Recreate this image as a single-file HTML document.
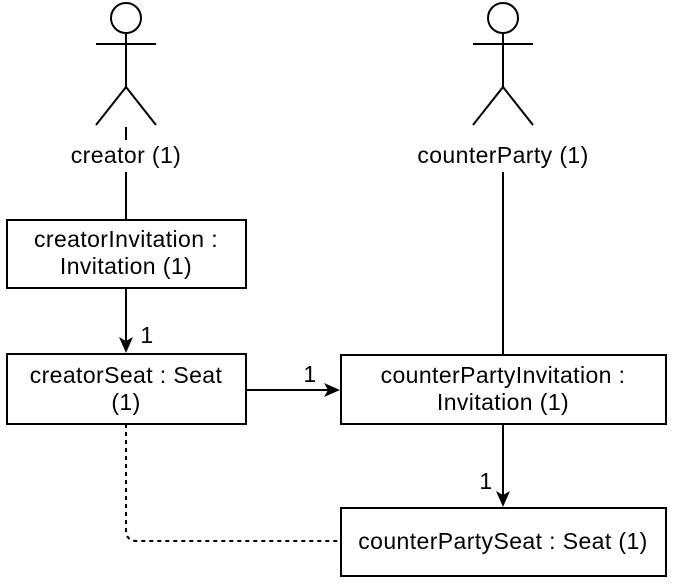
<!DOCTYPE html>
<html><head><style>body{margin:0;background:#fff}</style></head><body>
<svg width="673" height="581" xmlns="http://www.w3.org/2000/svg" font-family="Liberation Sans, Arial, sans-serif" font-size="23" letter-spacing="0.4">
<g stroke="#000" stroke-width="2" fill="none">
<circle cx="126" cy="18" r="15"/><line x1="126" y1="33" x2="126" y2="87"/><line x1="96" y1="44" x2="156" y2="44"/><line x1="126" y1="87" x2="96" y2="125"/><line x1="126" y1="87" x2="156" y2="125"/>
<circle cx="503" cy="18" r="15"/><line x1="503" y1="33" x2="503" y2="87"/><line x1="473" y1="44" x2="533" y2="44"/><line x1="503" y1="87" x2="473" y2="125"/><line x1="503" y1="87" x2="533" y2="125"/>
<line x1="126" y1="127" x2="126" y2="140"/><line x1="126" y1="172" x2="126" y2="220"/>
<line x1="503" y1="172" x2="503" y2="355"/>
<rect x="7" y="220" width="239" height="68" fill="#fff"/>
<rect x="7" y="354" width="239" height="70" fill="#fff"/>
<rect x="341" y="355" width="325" height="69" fill="#fff"/>
<rect x="341" y="508" width="325" height="68" fill="#fff"/>
<line x1="126" y1="288" x2="126" y2="342"/>
<line x1="246" y1="390" x2="330" y2="390"/>
<line x1="503" y1="424" x2="503" y2="496"/>
<path d="M126,424 L126,530 Q126,541 137,541 L341,541" stroke-dasharray="4,4"/>
</g>
<g fill="#000">
<path d="M119,337 L126,353 L133,337 L126,341 z"/>
<path d="M324,383 L340,390 L324,397 L328,390 z"/>
<path d="M496,491 L503,507 L510,491 L503,495 z"/>
</g>
<g text-anchor="middle" fill="#000">
<text x="126" y="163">creator (1)</text>
<text x="503" y="163">counterParty (1)</text>
<text x="126" y="247">creatorInvitation :</text><text x="126" y="274">Invitation (1)</text>
<text x="126" y="383">creatorSeat : Seat</text><text x="126" y="410">(1)</text>
<text x="503" y="383">counterPartyInvitation :</text><text x="503" y="410">Invitation (1)</text>
<text x="503" y="549">counterPartySeat : Seat (1)</text>
<text x="147" y="343">1</text><text x="310" y="382">1</text><text x="486" y="489">1</text>
</g>
</svg>
</body></html>
